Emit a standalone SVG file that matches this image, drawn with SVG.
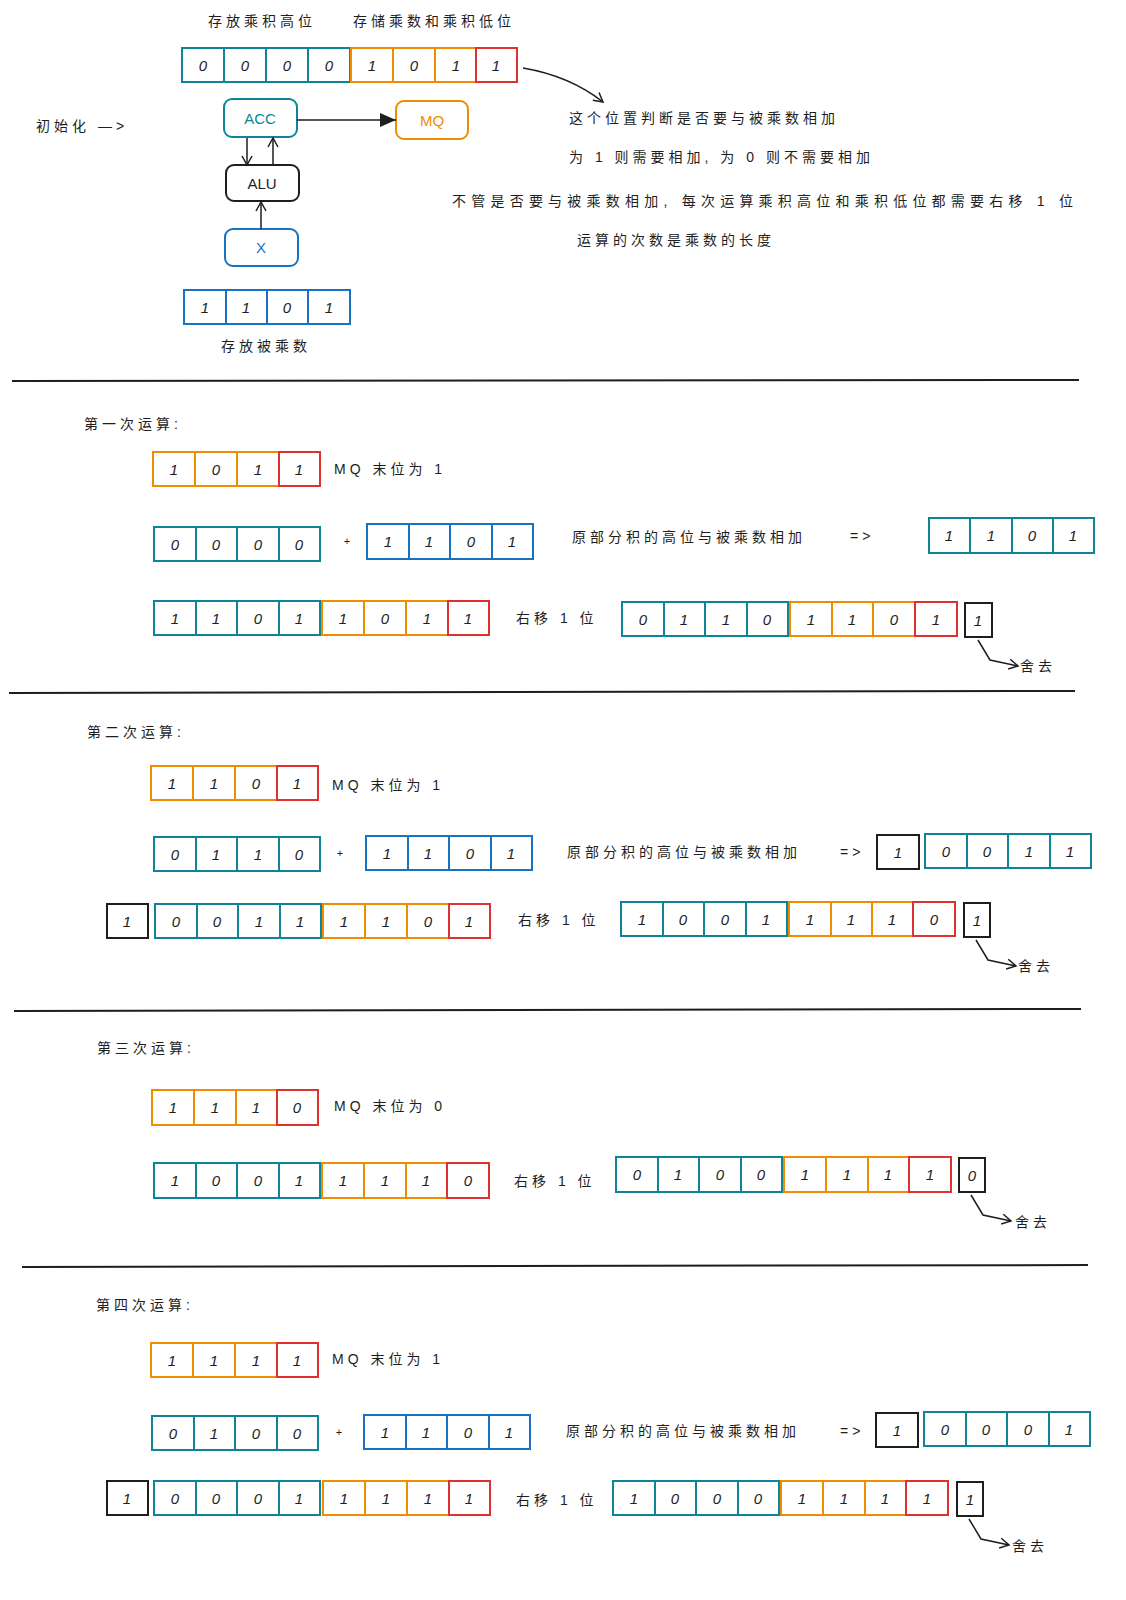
<svg xmlns="http://www.w3.org/2000/svg" width="1126" height="1600" viewBox="0 0 1126 1600">
<style>
text{font-family:"Liberation Sans","Noto Sans CJK SC",sans-serif;fill:#1e1e1e}
.lbl{font-size:14px;letter-spacing:4px}
.d{font-size:15px;font-style:italic;text-anchor:middle}
rect{fill:#fff;stroke-width:2}
.t{stroke:#0c8599}.o{stroke:#f08c00}.r{stroke:#e03131}.b{stroke:#1971c2}.k{stroke:#1e1e1e}
.c line,.c path{stroke:#1e1e1e;stroke-width:1.5;fill:none}
.sep{stroke:#1e1e1e;stroke-width:2}
</style>
<defs>
<marker id="ah" markerWidth="12" markerHeight="12" refX="10" refY="6" orient="auto" markerUnits="userSpaceOnUse"><path d="M1,1 L10,6 L1,11" fill="none" stroke="#1e1e1e" stroke-width="1.5"/></marker>
<marker id="af" markerWidth="18" markerHeight="16" refX="16" refY="8" orient="auto" markerUnits="userSpaceOnUse"><path d="M0,1 L16,8 L0,15 Z" fill="#1e1e1e"/></marker>
</defs>

<!-- top labels -->
<text class="lbl" x="208" y="26">存放乘积高位</text>
<text class="lbl" x="353" y="26">存储乘数和乘积低位</text>
<text class="lbl" x="36" y="131">初始化  —&gt;</text>
<text class="lbl" x="221" y="351">存放被乘数</text>
<text class="lbl" x="569" y="123">这个位置判断是否要与被乘数相加</text>
<text class="lbl" x="569" y="162">为 1 则需要相加, 为 0 则不需要相加</text>
<text class="lbl" x="452" y="206" textLength="625" lengthAdjust="spacing">不管是否要与被乘数相加, 每次运算乘积高位和乘积低位都需要右移 1 位</text>
<text class="lbl" x="577" y="245">运算的次数是乘数的长度</text>

<g id="reg-top">
<rect class="t" x="182" y="48" width="42" height="34"/><text class="d" x="203" y="71">0</text>
<rect class="t" x="224" y="48" width="42" height="34"/><text class="d" x="245" y="71">0</text>
<rect class="t" x="266" y="48" width="42" height="34"/><text class="d" x="287" y="71">0</text>
<rect class="t" x="308" y="48" width="42" height="34"/><text class="d" x="329" y="71">0</text>
<rect class="o" x="351" y="48" width="42" height="34"/><text class="d" x="372" y="71">1</text>
<rect class="o" x="393" y="48" width="42" height="34"/><text class="d" x="414" y="71">0</text>
<rect class="o" x="435" y="48" width="42" height="34"/><text class="d" x="456" y="71">1</text>
<rect class="r" x="476" y="48" width="41" height="34"/><text class="d" x="496" y="71">1</text>
</g>
<g id="acc"><rect class="t" x="224" y="99" width="73" height="38" rx="8"/><text x="260" y="124" text-anchor="middle" font-size="15" style="fill:#0c8599">ACC</text></g>
<g id="mq"><rect class="o" x="396" y="101" width="72" height="38" rx="8"/><text x="432" y="126" text-anchor="middle" font-size="15" style="fill:#f08c00">MQ</text></g>
<g id="alu"><rect class="k" x="226" y="165" width="73" height="36" rx="8"/><text x="262" y="189" text-anchor="middle" font-size="15">ALU</text></g>
<g id="x"><rect class="b" x="225" y="229" width="73" height="37" rx="8"/><text x="261" y="253" text-anchor="middle" font-size="15" style="fill:#1971c2">X</text></g>
<g id="reg-x">
<rect class="b" x="184" y="290" width="42" height="34"/><text class="d" x="205" y="313">1</text>
<rect class="b" x="226" y="290" width="41" height="34"/><text class="d" x="246" y="313">1</text>
<rect class="b" x="267" y="290" width="41" height="34"/><text class="d" x="287" y="313">0</text>
<rect class="b" x="308" y="290" width="42" height="34"/><text class="d" x="329" y="313">1</text>
</g>

<g class="c" id="connectors">
<path d="M523,68 Q570,76 603,102" marker-end="url(#ah)"/>
<line x1="297" y1="120" x2="396" y2="120" stroke-width="2" marker-end="url(#af)"/>
<line x1="247" y1="138" x2="247" y2="165" marker-end="url(#ah)"/>
<line x1="273" y1="165" x2="273" y2="138" marker-end="url(#ah)"/>
<line x1="261" y1="229" x2="261" y2="202" marker-end="url(#ah)"/>
<path d="M978,640 L990,660 L1018,666" marker-end="url(#ah)"/>
<path d="M976,940 L988,960 L1016,966" marker-end="url(#ah)"/>
<path d="M971,1195 L983,1215 L1011,1221" marker-end="url(#ah)"/>
<path d="M969,1519 L981,1539 L1009,1545" marker-end="url(#ah)"/>
</g>
<line class="sep" x1="12" y1="381" x2="1079" y2="380"/>
<line class="sep" x1="9" y1="693" x2="1075" y2="691"/>
<line class="sep" x1="14" y1="1011" x2="1081" y2="1009"/>
<line class="sep" x1="22" y1="1267" x2="1088" y2="1265"/>

<!-- Section 1 -->
<g id="s1">
<text class="lbl" x="84" y="429">第一次运算:</text>
<rect class="o" x="153" y="452" width="42" height="34"/><text class="d" x="174" y="475">1</text>
<rect class="o" x="195" y="452" width="42" height="34"/><text class="d" x="216" y="475">0</text>
<rect class="o" x="237" y="452" width="42" height="34"/><text class="d" x="258" y="475">1</text>
<rect class="r" x="279" y="452" width="41" height="34"/><text class="d" x="299" y="475">1</text>
<text class="lbl" x="334" y="474">MQ 末位为 1</text>
<rect class="t" x="154" y="527" width="42" height="34"/><text class="d" x="175" y="550">0</text>
<rect class="t" x="196" y="527" width="41" height="34"/><text class="d" x="216" y="550">0</text>
<rect class="t" x="237" y="527" width="42" height="34"/><text class="d" x="258" y="550">0</text>
<rect class="t" x="279" y="527" width="41" height="34"/><text class="d" x="299" y="550">0</text>
<text x="347" y="545" font-size="11" text-anchor="middle">+</text>
<rect class="b" x="367" y="524" width="42" height="35"/><text class="d" x="388" y="547">1</text>
<rect class="b" x="409" y="524" width="41" height="35"/><text class="d" x="429" y="547">1</text>
<rect class="b" x="450" y="524" width="42" height="35"/><text class="d" x="471" y="547">0</text>
<rect class="b" x="492" y="524" width="41" height="35"/><text class="d" x="512" y="547">1</text>
<text class="lbl" x="572" y="542">原部分积的高位与被乘数相加</text>
<text class="lbl" x="850" y="541">=&gt;</text>
<rect class="t" x="929" y="518" width="41" height="35"/><text class="d" x="949" y="541">1</text>
<rect class="t" x="970" y="518" width="42" height="35"/><text class="d" x="991" y="541">1</text>
<rect class="t" x="1012" y="518" width="41" height="35"/><text class="d" x="1032" y="541">0</text>
<rect class="t" x="1053" y="518" width="41" height="35"/><text class="d" x="1073" y="541">1</text>
<rect class="t" x="154" y="601" width="42" height="34"/><text class="d" x="175" y="624">1</text>
<rect class="t" x="196" y="601" width="41" height="34"/><text class="d" x="216" y="624">1</text>
<rect class="t" x="237" y="601" width="42" height="34"/><text class="d" x="258" y="624">0</text>
<rect class="t" x="279" y="601" width="41" height="34"/><text class="d" x="299" y="624">1</text>
<rect class="o" x="322" y="601" width="42" height="34"/><text class="d" x="343" y="624">1</text>
<rect class="o" x="364" y="601" width="42" height="34"/><text class="d" x="385" y="624">0</text>
<rect class="o" x="406" y="601" width="42" height="34"/><text class="d" x="427" y="624">1</text>
<rect class="r" x="448" y="601" width="41" height="34"/><text class="d" x="468" y="624">1</text>
<text class="lbl" x="516" y="623">右移 1 位</text>
<rect class="t" x="622" y="602" width="42" height="34"/><text class="d" x="643" y="625">0</text>
<rect class="t" x="664" y="602" width="41" height="34"/><text class="d" x="684" y="625">1</text>
<rect class="t" x="705" y="602" width="42" height="34"/><text class="d" x="726" y="625">1</text>
<rect class="t" x="747" y="602" width="41" height="34"/><text class="d" x="767" y="625">0</text>
<rect class="o" x="790" y="602" width="42" height="34"/><text class="d" x="811" y="625">1</text>
<rect class="o" x="832" y="602" width="41" height="34"/><text class="d" x="852" y="625">1</text>
<rect class="o" x="873" y="602" width="42" height="34"/><text class="d" x="894" y="625">0</text>
<rect class="r" x="915" y="602" width="42" height="34"/><text class="d" x="936" y="625">1</text>
<rect class="k" x="965" y="603" width="27" height="34"/><text class="d" x="978" y="626">1</text>
<text class="lbl" x="1020" y="671">舍去</text>
</g>

<!-- Section 2 -->
<g id="s2">
<text class="lbl" x="87" y="737">第二次运算:</text>
<rect class="o" x="151" y="766" width="42" height="34"/><text class="d" x="172" y="789">1</text>
<rect class="o" x="193" y="766" width="42" height="34"/><text class="d" x="214" y="789">1</text>
<rect class="o" x="235" y="766" width="42" height="34"/><text class="d" x="256" y="789">0</text>
<rect class="r" x="277" y="766" width="41" height="34"/><text class="d" x="297" y="789">1</text>
<text class="lbl" x="332" y="790">MQ 末位为 1</text>
<rect class="t" x="154" y="837" width="42" height="34"/><text class="d" x="175" y="860">0</text>
<rect class="t" x="196" y="837" width="41" height="34"/><text class="d" x="216" y="860">1</text>
<rect class="t" x="237" y="837" width="42" height="34"/><text class="d" x="258" y="860">1</text>
<rect class="t" x="279" y="837" width="41" height="34"/><text class="d" x="299" y="860">0</text>
<text x="340" y="857" font-size="11" text-anchor="middle">+</text>
<rect class="b" x="366" y="836" width="42" height="34"/><text class="d" x="387" y="859">1</text>
<rect class="b" x="408" y="836" width="41" height="34"/><text class="d" x="428" y="859">1</text>
<rect class="b" x="449" y="836" width="42" height="34"/><text class="d" x="470" y="859">0</text>
<rect class="b" x="491" y="836" width="41" height="34"/><text class="d" x="511" y="859">1</text>
<text class="lbl" x="567" y="857">原部分积的高位与被乘数相加</text>
<text class="lbl" x="840" y="857">=&gt;</text>
<rect class="k" x="877" y="835" width="42" height="34"/><text class="d" x="898" y="858">1</text>
<rect class="t" x="925" y="834" width="42" height="34"/><text class="d" x="946" y="857">0</text>
<rect class="t" x="967" y="834" width="41" height="34"/><text class="d" x="987" y="857">0</text>
<rect class="t" x="1008" y="834" width="42" height="34"/><text class="d" x="1029" y="857">1</text>
<rect class="t" x="1050" y="834" width="41" height="34"/><text class="d" x="1070" y="857">1</text>
<rect class="k" x="107" y="904" width="41" height="34"/><text class="d" x="127" y="927">1</text>
<rect class="t" x="155" y="904" width="42" height="34"/><text class="d" x="176" y="927">0</text>
<rect class="t" x="197" y="904" width="41" height="34"/><text class="d" x="217" y="927">0</text>
<rect class="t" x="238" y="904" width="42" height="34"/><text class="d" x="259" y="927">1</text>
<rect class="t" x="280" y="904" width="41" height="34"/><text class="d" x="300" y="927">1</text>
<rect class="o" x="323" y="904" width="42" height="34"/><text class="d" x="344" y="927">1</text>
<rect class="o" x="365" y="904" width="42" height="34"/><text class="d" x="386" y="927">1</text>
<rect class="o" x="407" y="904" width="42" height="34"/><text class="d" x="428" y="927">0</text>
<rect class="r" x="449" y="904" width="41" height="34"/><text class="d" x="469" y="927">1</text>
<text class="lbl" x="518" y="925">右移 1 位</text>
<rect class="t" x="621" y="902" width="42" height="34"/><text class="d" x="642" y="925">1</text>
<rect class="t" x="663" y="902" width="41" height="34"/><text class="d" x="683" y="925">0</text>
<rect class="t" x="704" y="902" width="42" height="34"/><text class="d" x="725" y="925">0</text>
<rect class="t" x="746" y="902" width="41" height="34"/><text class="d" x="766" y="925">1</text>
<rect class="o" x="789" y="902" width="42" height="34"/><text class="d" x="810" y="925">1</text>
<rect class="o" x="831" y="902" width="41" height="34"/><text class="d" x="851" y="925">1</text>
<rect class="o" x="872" y="902" width="41" height="34"/><text class="d" x="892" y="925">1</text>
<rect class="r" x="913" y="902" width="42" height="34"/><text class="d" x="934" y="925">0</text>
<rect class="k" x="964" y="903" width="26" height="34"/><text class="d" x="977" y="926">1</text>
<text class="lbl" x="1018" y="971">舍去</text>
</g>

<!-- Section 3 -->
<g id="s3">
<text class="lbl" x="97" y="1053">第三次运算:</text>
<rect class="o" x="152" y="1090" width="42" height="35"/><text class="d" x="173" y="1113">1</text>
<rect class="o" x="194" y="1090" width="42" height="35"/><text class="d" x="215" y="1113">1</text>
<rect class="o" x="236" y="1090" width="41" height="35"/><text class="d" x="256" y="1113">1</text>
<rect class="r" x="277" y="1090" width="41" height="35"/><text class="d" x="297" y="1113">0</text>
<text class="lbl" x="334" y="1111">MQ 末位为 0</text>
<rect class="t" x="154" y="1163" width="42" height="35"/><text class="d" x="175" y="1186">1</text>
<rect class="t" x="196" y="1163" width="41" height="35"/><text class="d" x="216" y="1186">0</text>
<rect class="t" x="237" y="1163" width="42" height="35"/><text class="d" x="258" y="1186">0</text>
<rect class="t" x="279" y="1163" width="41" height="35"/><text class="d" x="299" y="1186">1</text>
<rect class="o" x="322" y="1163" width="42" height="35"/><text class="d" x="343" y="1186">1</text>
<rect class="o" x="364" y="1163" width="42" height="35"/><text class="d" x="385" y="1186">1</text>
<rect class="o" x="406" y="1163" width="41" height="35"/><text class="d" x="426" y="1186">1</text>
<rect class="r" x="447" y="1163" width="42" height="35"/><text class="d" x="468" y="1186">0</text>
<text class="lbl" x="514" y="1186">右移 1 位</text>
<rect class="t" x="616" y="1157" width="42" height="35"/><text class="d" x="637" y="1180">0</text>
<rect class="t" x="658" y="1157" width="41" height="35"/><text class="d" x="678" y="1180">1</text>
<rect class="t" x="699" y="1157" width="42" height="35"/><text class="d" x="720" y="1180">0</text>
<rect class="t" x="741" y="1157" width="41" height="35"/><text class="d" x="761" y="1180">0</text>
<rect class="o" x="784" y="1157" width="42" height="35"/><text class="d" x="805" y="1180">1</text>
<rect class="o" x="826" y="1157" width="42" height="35"/><text class="d" x="847" y="1180">1</text>
<rect class="o" x="868" y="1157" width="41" height="35"/><text class="d" x="888" y="1180">1</text>
<rect class="r" x="909" y="1157" width="42" height="35"/><text class="d" x="930" y="1180">1</text>
<rect class="k" x="959" y="1158" width="26" height="34"/><text class="d" x="972" y="1181">0</text>
<text class="lbl" x="1015" y="1227">舍去</text>
</g>

<!-- Section 4 -->
<g id="s4">
<text class="lbl" x="96" y="1310">第四次运算:</text>
<rect class="o" x="151" y="1343" width="42" height="34"/><text class="d" x="172" y="1366">1</text>
<rect class="o" x="193" y="1343" width="42" height="34"/><text class="d" x="214" y="1366">1</text>
<rect class="o" x="235" y="1343" width="42" height="34"/><text class="d" x="256" y="1366">1</text>
<rect class="r" x="277" y="1343" width="41" height="34"/><text class="d" x="297" y="1366">1</text>
<text class="lbl" x="332" y="1364">MQ 末位为 1</text>
<rect class="t" x="152" y="1416" width="42" height="34"/><text class="d" x="173" y="1439">0</text>
<rect class="t" x="194" y="1416" width="41" height="34"/><text class="d" x="214" y="1439">1</text>
<rect class="t" x="235" y="1416" width="42" height="34"/><text class="d" x="256" y="1439">0</text>
<rect class="t" x="277" y="1416" width="41" height="34"/><text class="d" x="297" y="1439">0</text>
<text x="339" y="1436" font-size="11" text-anchor="middle">+</text>
<rect class="b" x="364" y="1415" width="42" height="34"/><text class="d" x="385" y="1438">1</text>
<rect class="b" x="406" y="1415" width="41" height="34"/><text class="d" x="426" y="1438">1</text>
<rect class="b" x="447" y="1415" width="42" height="34"/><text class="d" x="468" y="1438">0</text>
<rect class="b" x="489" y="1415" width="41" height="34"/><text class="d" x="509" y="1438">1</text>
<text class="lbl" x="566" y="1436">原部分积的高位与被乘数相加</text>
<text class="lbl" x="840" y="1436">=&gt;</text>
<rect class="k" x="876" y="1413" width="42" height="34"/><text class="d" x="897" y="1436">1</text>
<rect class="t" x="924" y="1412" width="42" height="34"/><text class="d" x="945" y="1435">0</text>
<rect class="t" x="966" y="1412" width="41" height="34"/><text class="d" x="986" y="1435">0</text>
<rect class="t" x="1007" y="1412" width="42" height="34"/><text class="d" x="1028" y="1435">0</text>
<rect class="t" x="1049" y="1412" width="41" height="34"/><text class="d" x="1069" y="1435">1</text>
<rect class="k" x="107" y="1481" width="41" height="34"/><text class="d" x="127" y="1504">1</text>
<rect class="t" x="154" y="1481" width="42" height="34"/><text class="d" x="175" y="1504">0</text>
<rect class="t" x="196" y="1481" width="41" height="34"/><text class="d" x="216" y="1504">0</text>
<rect class="t" x="237" y="1481" width="42" height="34"/><text class="d" x="258" y="1504">0</text>
<rect class="t" x="279" y="1481" width="41" height="34"/><text class="d" x="299" y="1504">1</text>
<rect class="o" x="323" y="1481" width="42" height="34"/><text class="d" x="344" y="1504">1</text>
<rect class="o" x="365" y="1481" width="42" height="34"/><text class="d" x="386" y="1504">1</text>
<rect class="o" x="407" y="1481" width="42" height="34"/><text class="d" x="428" y="1504">1</text>
<rect class="r" x="449" y="1481" width="41" height="34"/><text class="d" x="469" y="1504">1</text>
<text class="lbl" x="516" y="1505">右移 1 位</text>
<rect class="t" x="613" y="1481" width="42" height="34"/><text class="d" x="634" y="1504">1</text>
<rect class="t" x="655" y="1481" width="41" height="34"/><text class="d" x="675" y="1504">0</text>
<rect class="t" x="696" y="1481" width="42" height="34"/><text class="d" x="717" y="1504">0</text>
<rect class="t" x="738" y="1481" width="41" height="34"/><text class="d" x="758" y="1504">0</text>
<rect class="o" x="781" y="1481" width="42" height="34"/><text class="d" x="802" y="1504">1</text>
<rect class="o" x="823" y="1481" width="42" height="34"/><text class="d" x="844" y="1504">1</text>
<rect class="o" x="865" y="1481" width="41" height="34"/><text class="d" x="885" y="1504">1</text>
<rect class="r" x="906" y="1481" width="42" height="34"/><text class="d" x="927" y="1504">1</text>
<rect class="k" x="957" y="1482" width="26" height="34"/><text class="d" x="970" y="1505">1</text>
<text class="lbl" x="1012" y="1551">舍去</text>
</g>
</svg>
